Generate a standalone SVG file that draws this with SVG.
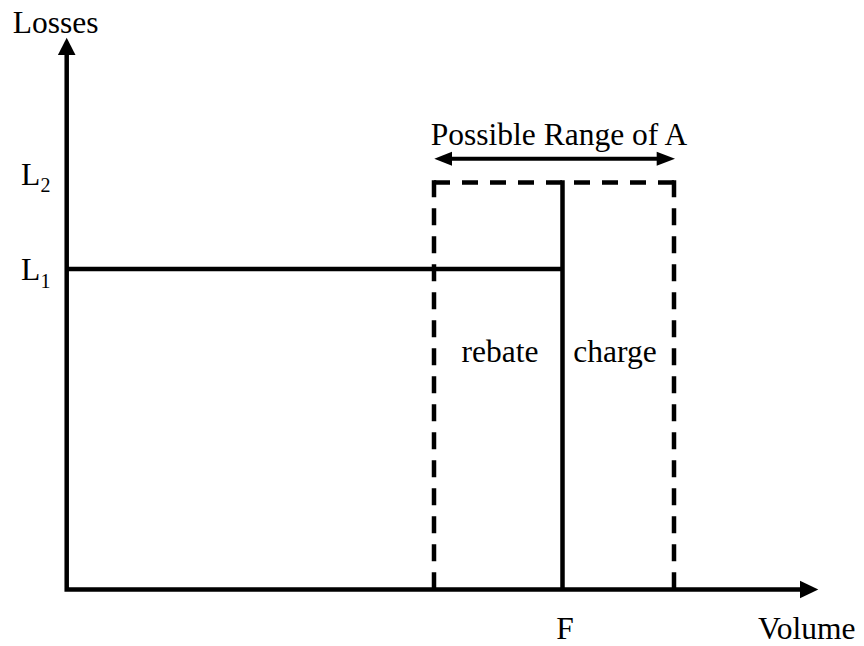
<svg xmlns="http://www.w3.org/2000/svg" width="864" height="646" viewBox="0 0 864 646">
  <style>
    text { font-family: "Liberation Serif", "Times New Roman", serif; font-size: 31.5px; fill: #000; }
    .sub { font-size: 20px; }
    .line { fill: none; stroke: #000; stroke-width: 4.5; stroke-linecap: butt; }
    .thin { fill: none; stroke: #000; stroke-width: 4; }
    .dash-v { stroke-dasharray: 17 11; }
    .dash-h { stroke-dasharray: 16 12; }
    .head { fill: #000; }
  </style>
  <rect width="864" height="646" fill="#fff"/>

  <!-- axes -->
  <g id="axes">
    <path class="line" d="M66.7,54 V589.5 H801" stroke-linejoin="miter"/>
    <polygon class="head" points="66.7,37.7 57.9,55 75.5,55"/>
    <polygon class="head" points="818.3,589.5 800,580.7 800,598.3"/>
    <text x="12.7" y="33">Losses</text>
    <text x="758" y="639">Volume</text>
  </g>

  <!-- loss levels -->
  <g id="levels">
    <text x="21" y="185">L<tspan class="sub" x="40.5" y="191.7">2</tspan></text>
    <text x="21" y="280">L<tspan class="sub" x="40.5" y="288.3">1</tspan></text>
    <path class="line" d="M66.7,269 H562.5"/>
  </g>

  <!-- range of A: dashed box split at F -->
  <g id="range">
    <path class="line dash-v" d="M434,180.25 V589.5"/>
    <path class="line dash-h" d="M434,182.5 H674"/>
    <path class="line dash-v" d="M674,180.25 V589.5"/>
    <path class="line" d="M562.5,180.25 V589.5"/>
    <text x="500" y="361.7" text-anchor="middle">rebate</text>
    <text x="615" y="361.7" text-anchor="middle">charge</text>
    <text x="565" y="639" text-anchor="middle">F</text>
  </g>

  <!-- double-headed arrow over the range -->
  <g id="connectors">
    <path class="thin" d="M450,158.7 H658"/>
    <polygon class="head" points="434.3,158.7 452,151.7 452,165.7"/>
    <polygon class="head" points="675,158.7 656.7,151.7 656.7,165.7"/>
  </g>
  <g id="range-label">
    <text x="559" y="145" text-anchor="middle">Possible Range of A</text>
  </g>
</svg>
